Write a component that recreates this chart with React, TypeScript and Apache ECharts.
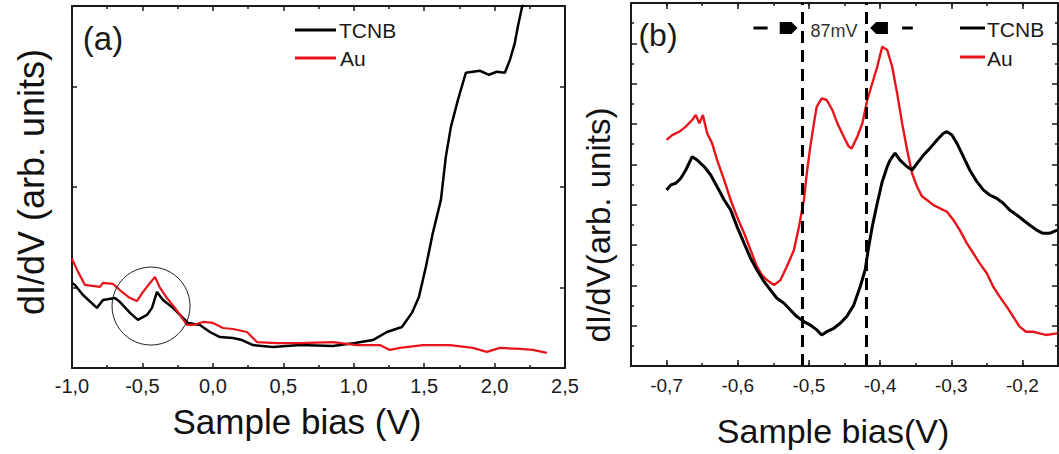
import React, { useEffect, useRef } from "react";
import * as echarts from "echarts";

// ---------- Panel (a): Sample bias (V) vs dI/dV (arb. units) ----------
const tcnbA_V = [-1.0, -0.979, -0.922, -0.823, -0.78, -0.695, -0.659, -0.588, -0.532, -0.468, -0.432, -0.397, -0.354, -0.283, -0.212, -0.177, -0.092, -0.021, 0.05, 0.143, 0.207, 0.285, 0.427, 0.618, 0.852, 1.009, 1.136, 1.236, 1.342, 1.413, 1.463, 1.512, 1.562, 1.619, 1.654, 1.69, 1.74, 1.796, 1.896, 1.96, 2.016, 2.073, 2.109, 2.144, 2.165, 2.194, 2.208];
const tcnbA_Y = [4.23, 4.13, 3.63, 2.99, 3.38, 3.48, 3.28, 2.74, 2.39, 2.64, 2.99, 3.78, 3.38, 2.99, 2.49, 2.24, 2.14, 1.79, 1.54, 1.49, 1.39, 1.14, 1.04, 1.14, 1.09, 1.24, 1.39, 1.79, 2.04, 2.74, 3.53, 5.02, 6.72, 8.36, 10.5, 11.99, 13.33, 14.68, 14.78, 14.58, 14.73, 14.68, 15.32, 16.17, 16.97, 17.91, 18.3];
const auA_V = [-1.0, -0.957, -0.908, -0.801, -0.78, -0.709, -0.645, -0.588, -0.539, -0.496, -0.446, -0.411, -0.375, -0.326, -0.269, -0.219, -0.184, -0.141, -0.07, 0.001, 0.072, 0.143, 0.242, 0.313, 0.455, 0.618, 0.852, 1.023, 1.186, 1.257, 1.328, 1.491, 1.683, 1.846, 1.945, 2.038, 2.18, 2.272, 2.371];
const auA_Y = [5.42, 4.78, 4.13, 4.03, 4.23, 4.18, 3.78, 3.48, 3.33, 3.78, 4.23, 4.53, 3.98, 3.48, 2.99, 2.49, 2.14, 2.14, 2.29, 2.24, 1.99, 1.94, 1.79, 1.29, 1.24, 1.24, 1.29, 1.14, 1.14, 0.9, 1.0, 1.14, 1.14, 1.0, 0.8, 1.0, 0.95, 0.9, 0.75];
const ticksA_Y = [4, 9, 14];

// ---------- Panel (b) ----------
const tcnbB_V = [-0.7, -0.694, -0.687, -0.68, -0.673, -0.664, -0.657, -0.647, -0.638, -0.629, -0.619, -0.61, -0.601, -0.591, -0.582, -0.573, -0.563, -0.554, -0.545, -0.535, -0.526, -0.517, -0.507, -0.498, -0.489, -0.482, -0.475, -0.465, -0.456, -0.447, -0.437, -0.428, -0.421, -0.416, -0.411, -0.404, -0.397, -0.39, -0.386, -0.379, -0.372, -0.362, -0.355, -0.348, -0.339, -0.33, -0.32, -0.311, -0.306, -0.299, -0.292, -0.283, -0.274, -0.264, -0.255, -0.246, -0.236, -0.227, -0.218, -0.208, -0.199, -0.19, -0.18, -0.171, -0.162, -0.151];
const tcnbB_Y = [8.73, 8.98, 9.06, 9.31, 9.72, 10.38, 10.21, 9.88, 9.47, 8.89, 8.23, 7.74, 6.91, 6.08, 5.34, 4.76, 4.18, 3.77, 3.36, 3.11, 2.78, 2.45, 2.2, 2.03, 1.79, 1.54, 1.7, 1.87, 2.12, 2.45, 3.02, 3.93, 4.76, 5.92, 6.91, 8.07, 9.14, 9.88, 10.21, 10.55, 10.21, 9.88, 9.72, 10.05, 10.46, 10.79, 11.21, 11.54, 11.62, 11.45, 11.04, 10.38, 9.72, 9.14, 8.73, 8.48, 8.31, 8.07, 7.74, 7.49, 7.24, 6.99, 6.74, 6.58, 6.58, 6.74];
const auB_V = [-0.7, -0.692, -0.682, -0.673, -0.664, -0.659, -0.654, -0.649, -0.643, -0.636, -0.629, -0.619, -0.61, -0.601, -0.591, -0.582, -0.573, -0.566, -0.559, -0.549, -0.54, -0.531, -0.521, -0.514, -0.507, -0.503, -0.498, -0.493, -0.489, -0.482, -0.475, -0.467, -0.46, -0.451, -0.444, -0.44, -0.432, -0.425, -0.418, -0.411, -0.404, -0.397, -0.39, -0.383, -0.376, -0.369, -0.362, -0.355, -0.348, -0.341, -0.334, -0.325, -0.316, -0.306, -0.297, -0.288, -0.278, -0.269, -0.26, -0.25, -0.241, -0.232, -0.222, -0.213, -0.204, -0.195, -0.185, -0.176, -0.167, -0.151];
const auB_Y = [11.21, 11.45, 11.62, 11.87, 12.2, 12.45, 12.03, 12.45, 11.54, 11.04, 10.21, 9.22, 8.23, 7.4, 6.58, 5.75, 4.93, 4.51, 4.26, 4.02, 4.26, 4.93, 5.75, 6.91, 8.23, 9.55, 10.88, 12.03, 12.86, 13.27, 13.19, 12.69, 12.03, 11.37, 10.88, 10.79, 11.37, 12.03, 13.19, 14.02, 14.84, 15.83, 15.67, 14.84, 13.52, 12.03, 10.71, 9.55, 8.89, 8.4, 8.23, 7.98, 7.82, 7.65, 7.24, 6.74, 6.08, 5.59, 5.09, 4.6, 3.93, 3.44, 2.94, 2.45, 1.95, 1.7, 1.7, 1.62, 1.54, 1.62];
const majorB_X = [-0.7, -0.6, -0.5, -0.4, -0.3, -0.2];
const markB_V = [-0.511, -0.418];
const arrowB_Y = 16.76;
const arrowLeftDash = [-0.578, -0.558];
const arrowLeftHead = [-0.541, -0.516];
const arrowRightHead = [-0.414, -0.389];
const arrowRightDash = [-0.369, -0.354];
const circleA_center = [-0.439, 3.08];

const FONT = "'Liberation Sans', Arial, Helvetica, sans-serif";
const INK = "#1a1a1a";
const RED = "#e8141b";

const fmt = (v: number) => {
  const s = (Math.round(v * 10) / 10).toFixed(1).replace(".", ",");
  return s === "-0,0" ? "0,0" : s;
};
const pairs = (xs: number[], ys: number[]) => xs.map((x, i) => [x, ys[i]]);

export default function App() {
  const ref = useRef<HTMLDivElement>(null);
  useEffect(() => {
    const chart = echarts.init(ref.current!, null, { renderer: "svg" });
    const line = { show: true, onZero: false, lineStyle: { color: INK, width: 2 } };
    const noLine = { show: false, onZero: false };
    const tick = (len: number, extra: any = {}) => ({
      show: true, inside: true, length: len, lineStyle: { color: INK, width: 1.5 }, ...extra,
    });
    const minor = { show: true, splitNumber: 2, length: 3, lineStyle: { color: INK, width: 1.5 } };
    const noLabel = { show: false };
    const noSplit = { show: false };

    const axisA_X = (position: string, labels: boolean) => ({
      type: "value", gridIndex: 0, position, min: -1, max: 2.5, interval: 0.5,
      axisLine: line, axisTick: tick(5), minorTick: minor, splitLine: noSplit, minorSplitLine: noSplit,
      axisLabel: labels
        ? { show: true, formatter: fmt, fontSize: 20, fontFamily: FONT, color: INK, margin: 8, showMinLabel: true, showMaxLabel: true }
        : noLabel,
    });
    const axisB_Xminor = (position: string) => ({
      type: "value", gridIndex: 1, position, min: -0.75, max: -0.15, interval: 0.05,
      axisLine: line, axisTick: tick(3), splitLine: noSplit, axisLabel: noLabel,
    });
    const axisB_Xmajor = (position: string, labels: boolean) => ({
      type: "value", gridIndex: 1, position, min: -0.75, max: -0.15,
      axisLine: noLine, axisTick: tick(6, { customValues: majorB_X }), splitLine: noSplit,
      axisLabel: labels
        ? { show: true, customValues: majorB_X, formatter: fmt, fontSize: 19, fontFamily: FONT, color: INK, margin: 10 }
        : noLabel,
    });
    const axisA_Y = (position: string) => ({
      type: "value", gridIndex: 0, position, min: 0, max: 18,
      axisLine: line, axisTick: tick(5, { customValues: ticksA_Y }), splitLine: noSplit, axisLabel: noLabel,
    });
    const axisB_Y = (position: string) => ({
      type: "value", gridIndex: 1, position, min: 0, max: 18, interval: 2,
      axisLine: line, axisTick: tick(6), minorTick: minor, splitLine: noSplit, minorSplitLine: noSplit, axisLabel: noLabel,
    });

    const option: any = {
      animation: false,
      backgroundColor: "#fff",
      grid: [
        { left: 72, top: 6, width: 493, height: 362, containLabel: false, outerBoundsMode: "none" },
        { left: 631, top: 3, width: 427, height: 363, containLabel: false, outerBoundsMode: "none" },
      ],
      xAxis: [
        axisA_X("bottom", true),
        axisA_X("top", false),
        axisB_Xminor("bottom"),
        axisB_Xmajor("bottom", true),
        axisB_Xminor("top"),
        axisB_Xmajor("top", false),
      ],
      yAxis: [axisA_Y("left"), axisA_Y("right"), axisB_Y("left"), axisB_Y("right")],
      series: [
        {
          name: "TCNB", type: "line", xAxisIndex: 0, yAxisIndex: 0, showSymbol: false, silent: true,
          data: pairs(tcnbA_V, tcnbA_Y), lineStyle: { color: "#000", width: 2.5 }, itemStyle: { color: "#000" },
        },
        {
          name: "Au", type: "line", xAxisIndex: 0, yAxisIndex: 0, showSymbol: false, silent: true,
          data: pairs(auA_V, auA_Y), lineStyle: { color: RED, width: 2.2 }, itemStyle: { color: RED },
        },
        {
          name: "Au", type: "line", xAxisIndex: 2, yAxisIndex: 2, showSymbol: false, silent: true,
          data: pairs(auB_V, auB_Y), lineStyle: { color: RED, width: 2.4 }, itemStyle: { color: RED },
        },
        {
          name: "TCNB", type: "line", xAxisIndex: 2, yAxisIndex: 2, showSymbol: false, silent: true,
          data: pairs(tcnbB_V, tcnbB_Y), lineStyle: { color: "#000", width: 3 }, itemStyle: { color: "#000" },
          markLine: {
            silent: true, symbol: "none", animation: false,
            label: { show: false },
            lineStyle: { color: "#000", width: 3, type: [12, 7] },
            data: markB_V.map((v) => ({ xAxis: v })),
          },
        },
      ],
    };
    chart.setOption(option);

    const pa = (x: number, y: number) => chart.convertToPixel({ seriesIndex: 0 }, [x, y]) as number[];
    const pb = (x: number, y: number) => chart.convertToPixel({ seriesIndex: 3 }, [x, y]) as number[];

    const txt = (text: string, x: number, y: number, fontSize: number, align = "center", rotation = 0, fill = INK) => ({
      type: "text", x, y, rotation, z: 100,
      style: { text, fontSize, fontFamily: FONT, fill, textAlign: align, textVerticalAlign: "middle" },
    });
    const seg = (x1: number, y1: number, x2: number, y2: number, stroke: string, lineWidth: number) => ({
      type: "line", z: 100, shape: { x1, y1, x2, y2 }, style: { stroke, lineWidth },
    });

    const c = pa(circleA_center[0], circleA_center[1]);
    const yArr = pb(-0.5, arrowB_Y)[1];
    const ld1 = pb(arrowLeftDash[0], arrowB_Y)[0];
    const ld2 = pb(arrowLeftDash[1], arrowB_Y)[0];
    const lhB = pb(arrowLeftHead[0], arrowB_Y)[0];
    const lhT = pb(arrowLeftHead[1], arrowB_Y)[0];
    const rhT = pb(arrowRightHead[0], arrowB_Y)[0];
    const rhB = pb(arrowRightHead[1], arrowB_Y)[0];
    const rd1 = pb(arrowRightDash[0], arrowB_Y)[0];
    const rd2 = pb(arrowRightDash[1], arrowB_Y)[0];
    const h = 6;

    chart.setOption({
      graphic: [
        { type: "circle", z: 100, shape: { cx: c[0], cy: c[1], r: 39 }, style: { fill: "none", stroke: "#222", lineWidth: 1 } },
        txt("(a)", 103, 38, 33),
        txt("(b)", 658, 35, 32),
        txt("dI/dV (arb. units)", 31, 182, 36, "center", Math.PI / 2, "#111"),
        txt("Sample bias (V)", 297, 421, 35, "center", 0, "#111"),
        txt("dI/dV(arb. units)", 598, 225, 33, "center", Math.PI / 2, "#111"),
        txt("Sample bias(V)", 833, 431, 34, "center", 0, "#111"),
        // legend (a)
        seg(295, 30, 336, 30, "#000", 3),
        txt("TCNB", 339, 30, 21, "left"),
        seg(295, 58, 336, 58, RED, 3),
        txt("Au", 340, 58, 21, "left"),
        // legend (b)
        seg(960, 28, 985, 28, "#000", 3),
        txt("TCNB", 987, 29, 21, "left"),
        seg(960, 57, 985, 57, RED, 3),
        txt("Au", 987, 58, 21, "left"),
        // 87 mV annotation
        seg(ld1, yArr, ld2, yArr, "#000", 3),
        {
          type: "polygon", z: 100,
          shape: { points: [[lhB, yArr - h], [lhT - 6, yArr - h], [lhT, yArr], [lhT - 6, yArr + h], [lhB, yArr + h]] },
          style: { fill: "#000" },
        },
        {
          type: "polygon", z: 100,
          shape: { points: [[rhB, yArr - h], [rhT + 6, yArr - h], [rhT, yArr], [rhT + 6, yArr + h], [rhB, yArr + h]] },
          style: { fill: "#000" },
        },
        seg(rd1, yArr, rd2, yArr, "#000", 3),
        txt("87mV", 834, 31, 18, "center", 0, "#333"),
      ],
    });

    return () => chart.dispose();
  }, []);
  return (
    <div
      ref={ref}
      style={{ position: "fixed", left: 0, top: 0, width: 1059, height: 454, background: "#fff" }}
    />
  );
}
